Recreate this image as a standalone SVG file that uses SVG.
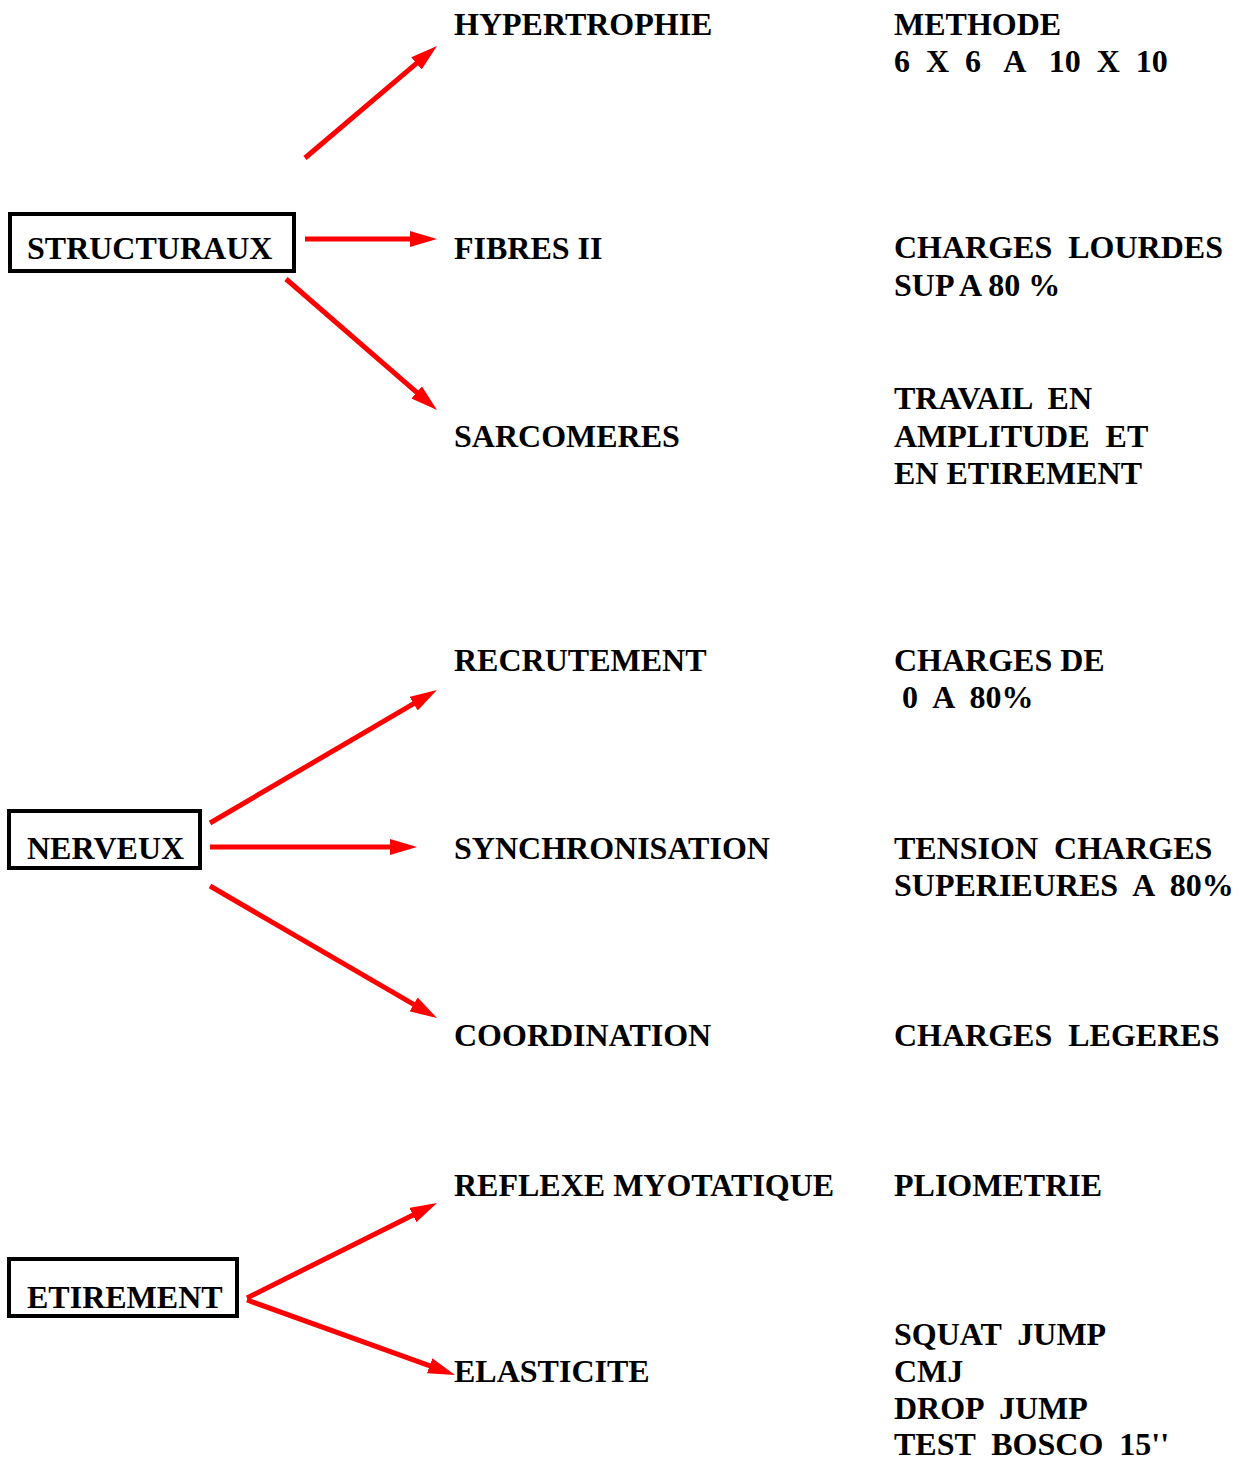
<svg xmlns="http://www.w3.org/2000/svg" width="1240" height="1461" viewBox="0 0 1240 1461">
  <style>
    text { font-family: "Liberation Serif", "Times New Roman", serif; font-weight: bold; font-size: 32px; fill: #000; white-space: pre; }
    .box { fill: #fff; stroke: #000; stroke-width: 4; }
    .arrow { stroke: #ff0000; stroke-width: 5; fill: none; marker-end: url(#head); }
  </style>
  <defs>
    <marker id="head" viewBox="0 0 27 16" markerWidth="27" markerHeight="16" markerUnits="userSpaceOnUse" refX="7" refY="8" orient="auto">
      <path d="M0,0 L27,8 L0,16 z" fill="#ff0000"/>
    </marker>
  </defs>
  <rect width="1240" height="1461" fill="#fff"/>

  <!-- root categories -->
  <g id="structuraux">
    <rect class="box" x="10" y="214" width="284" height="57"/>
    <text x="27" y="259">STRUCTURAUX</text>
  </g>
  <g id="nerveux">
    <rect class="box" x="9" y="811" width="191" height="57"/>
    <text x="27" y="859">NERVEUX</text>
  </g>
  <g id="etirement">
    <rect class="box" x="9" y="1259" width="228" height="57"/>
    <text x="27" y="1308">ETIREMENT</text>
  </g>

  <!-- adaptations -->
  <g id="hypertrophie"><text x="454" y="35">HYPERTROPHIE</text></g>
  <g id="fibres"><text x="454" y="259">FIBRES II</text></g>
  <g id="sarcomeres"><text x="454" y="447">SARCOMERES</text></g>
  <g id="recrutement"><text x="454" y="671">RECRUTEMENT</text></g>
  <g id="synchronisation"><text x="454" y="859">SYNCHRONISATION</text></g>
  <g id="coordination"><text x="454" y="1046">COORDINATION</text></g>
  <g id="reflexe"><text x="454" y="1196">REFLEXE MYOTATIQUE</text></g>
  <g id="elasticite"><text x="454" y="1382">ELASTICITE</text></g>

  <!-- training methods -->
  <g id="methode">
    <text x="894" y="35">METHODE</text>
    <text x="894" y="72">6  X  6   A   10  X  10</text>
  </g>
  <g id="charges-lourdes">
    <text x="894" y="258">CHARGES  LOURDES</text>
    <text x="894" y="296">SUP A 80 %</text>
  </g>
  <g id="travail">
    <text x="894" y="409">TRAVAIL  EN</text>
    <text x="894" y="447">AMPLITUDE  ET</text>
    <text x="894" y="484">EN ETIREMENT</text>
  </g>
  <g id="charges-de">
    <text x="894" y="671">CHARGES DE</text>
    <text x="894" y="708"> 0  A  80%</text>
  </g>
  <g id="tension">
    <text x="894" y="859">TENSION  CHARGES</text>
    <text x="894" y="896">SUPERIEURES  A  80%</text>
  </g>
  <g id="charges-legeres"><text x="894" y="1046">CHARGES  LEGERES</text></g>
  <g id="pliometrie"><text x="894" y="1196">PLIOMETRIE</text></g>
  <g id="tests">
    <text x="894" y="1345">SQUAT  JUMP</text>
    <text x="894" y="1382">CMJ</text>
    <text x="894" y="1419">DROP  JUMP</text>
    <text x="894" y="1455">TEST  BOSCO  15''</text>
  </g>

  <!-- connectors -->
  <g id="connectors">
    <line class="arrow" x1="305" y1="158" x2="421.75" y2="58.94"/>
    <line class="arrow" x1="305" y1="239" x2="417" y2="239"/>
    <line class="arrow" x1="286" y1="279" x2="421.9" y2="396.9"/>
    <line class="arrow" x1="210" y1="823" x2="419.7" y2="700.1"/>
    <line class="arrow" x1="210" y1="847" x2="397" y2="847"/>
    <line class="arrow" x1="210" y1="886" x2="419.7" y2="1007.9"/>
    <line class="arrow" x1="247" y1="1298" x2="419.1" y2="1211.9"/>
    <line class="arrow" x1="247" y1="1300" x2="436.2" y2="1368.2"/>
  </g>
</svg>
